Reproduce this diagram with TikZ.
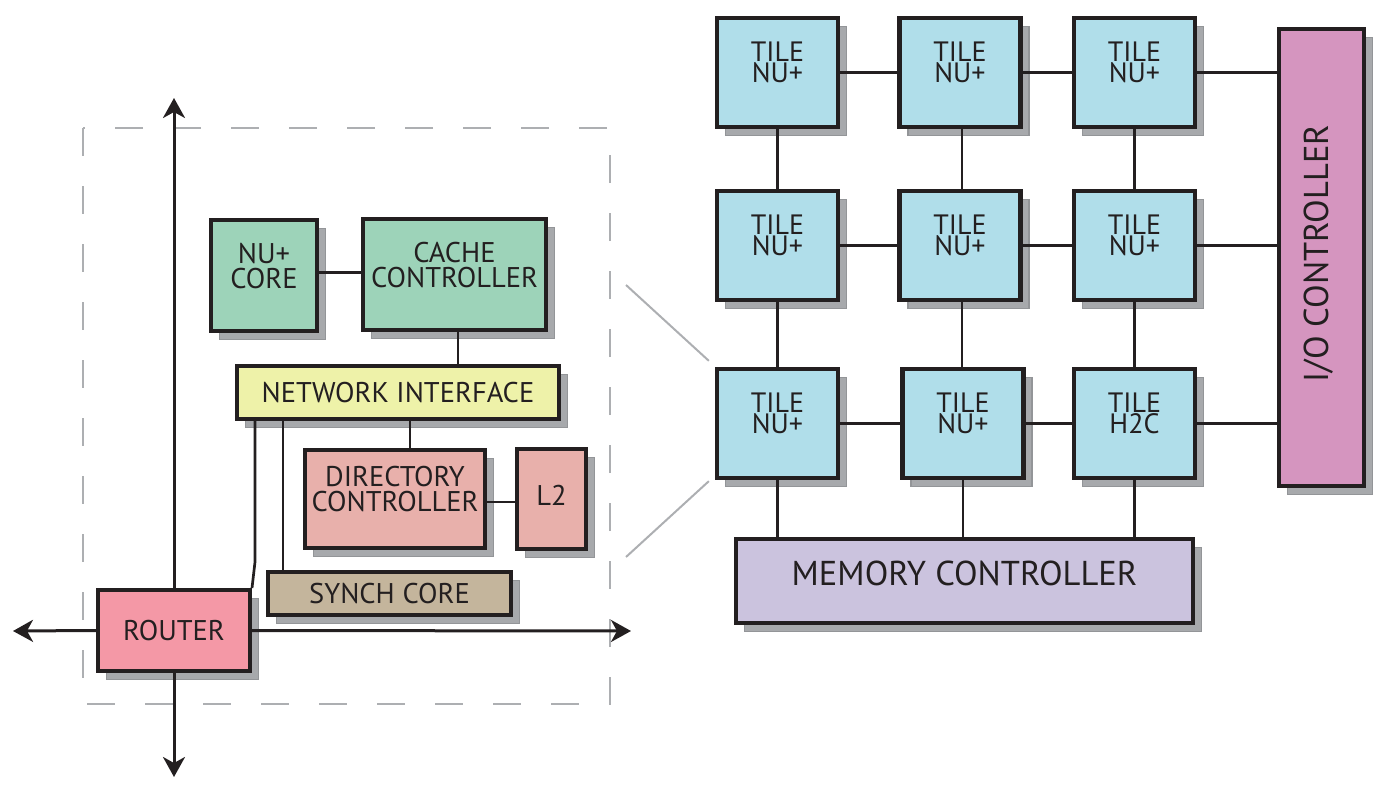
\documentclass[tikz,border=0pt]{standalone}
\usepackage{fontspec}
\setmainfont{PT Sans}
\usetikzlibrary{shadows,calc,arrows.meta}
\definecolor{ink}{HTML}{231F20}
\definecolor{tilec}{HTML}{B0DEEA}
\definecolor{greenc}{HTML}{9DD3B9}
\definecolor{nic}{HTML}{EEF2A9}
\definecolor{dirc}{HTML}{E8B0AB}
\definecolor{routerc}{HTML}{F498A6}
\definecolor{synchc}{HTML}{C4B59C}
\definecolor{memc}{HTML}{CBC3DE}
\definecolor{ioc}{HTML}{D595BF}
\definecolor{shadowc}{HTML}{A7A9AC}
\definecolor{shadowd}{HTML}{939598}
\definecolor{dashc}{HTML}{ADAFB2}
\tikzset{
  blk/.style={draw=ink, line width=4.3pt, inner sep=0pt, rectangle,
    drop shadow={shadow xshift=8.5pt, shadow yshift=-8.5pt, opacity=1,
      fill=shadowc, draw=shadowd, line width=1.2pt}},
  tile/.style={blk, fill=tilec, minimum width=121pt, minimum height=109pt},
  txt/.style={text=ink, align=center, inner sep=0pt, font=\fontsize{28.5}{25}\selectfont},
  tiletxt/.style={txt, font=\fontsize{28}{20.5}\selectfont},
  bigtxt/.style={txt, font=\fontsize{34.5}{34}\selectfont},
  conn/.style={draw=ink, line width=2.7pt},
  axis/.style={draw=ink, line width=3pt, -{Stealth[length=20pt,width=22pt,inset=6pt]}},
  zoomline/.style={draw=dashc, line width=2pt},
}
\begin{document}
\begin{tikzpicture}[x=1pt,y=-1pt]
\useasboundingbox (0,0) rectangle (1389,787);
% dashed enclosure
\draw[dashc, line width=2pt, dash pattern=on 28pt off 30pt] (83,128) rectangle (610,704);

% ---- right: tile grid ----
\node[tile] (t11) at (777.5,72.5) {};
\node[tile] (t12) at (960,72.5) {};
\node[tile] (t13) at (1134.5,72.5) {};
\node[tile] (t21) at (777.5,245.5) {};
\node[tile] (t22) at (960,245.5) {};
\node[tile] (t23) at (1134.5,245.5) {};
\node[tile] (t31) at (777.5,423.5) {};
\node[tile] (t32) at (963,423.5) {};
\node[tile] (t33) at (1134.5,423.5) {};
\foreach \t in {t11,t12,t13,t21,t22,t23,t31,t32}{
  \node[tiletxt] (\t l) at ([yshift=10pt]\t.center) {TILE\\NU+};
}
\node[tiletxt] (t33l) at ([yshift=10pt]t33.center) {TILE\\H2C};

\node[blk, fill=ioc, minimum width=84.7pt, minimum height=456.7pt] (io) at (1321.5,257.5) {};
\node[bigtxt, rotate=90] (iol) at ([xshift=-3pt,yshift=4pt]io.center) {I/O CONTROLLER};
\node[blk, fill=memc, minimum width=456.7pt, minimum height=83.7pt] (mem) at (964.5,581) {};
\node[bigtxt] (meml) at ([yshift=8pt]mem.center) {MEMORY CONTROLLER};

% grid connectors
\foreach \a/\b in {t11/t12,t12/t13,t21/t22,t22/t23,t31/t32,t32/t33}{
  \draw[conn] (\a.east) -- (\a.east -| \b.west);
}
\foreach \a/\b in {t11/t21,t21/t31,t13/t23,t23/t33}{
  \draw[conn] (\a.south) -- (\a.south |- \b.north);
}
\draw[conn] ([xshift=-1pt]t32.north |- t22.south) -- ([xshift=-1pt]t32.north);
\draw[conn] ([xshift=-1pt]t12.south -| t32.north) -- ([xshift=-1pt]t22.north -| t32.north);
\foreach \a in {t13,t23,t33}{
  \draw[conn] (\a.east) -- (\a.east -| io.west);
}
\foreach \a in {t31,t32,t33}{
  \draw[conn] (\a.south) -- (\a.south |- mem.north);
}

% ---- left: tile detail ----
\node[blk, fill=greenc, minimum width=105.7pt, minimum height=110.7pt] (core) at (264,275.5) {};
\node[txt] (corel) at ([yshift=9pt]core.center) {NU+\\CORE};
\node[blk, fill=greenc, minimum width=182.7pt, minimum height=110.7pt] (cache) at (454.5,274.5) {};
\node[txt] (cachel) at ([yshift=9pt]cache.center) {CACHE\\CONTROLLER};
\node[blk, fill=nic, minimum width=321.7pt, minimum height=52.7pt] (ni) at (398,392.5) {};
\node[txt] (nil) at (ni.center) {NETWORK INTERFACE};
\node[blk, fill=dirc, minimum width=179.7pt, minimum height=97.7pt] (dir) at (395,499) {};
\node[txt] (dirl) at ([yshift=10pt]dir.center) {DIRECTORY\\CONTROLLER};
\node[blk, fill=dirc, minimum width=68.7pt, minimum height=99.7pt] (l2) at (551.5,499) {};
\node[txt] (l2l) at ([yshift=4pt]l2.center) {L2};
\node[blk, fill=synchc, minimum width=242.7pt, minimum height=42.7pt] (synch) at (389.5,593.5) {};
\node[txt] (synchl) at (synch.center) {SYNCH CORE};
\node[blk, fill=routerc, minimum width=151.7pt, minimum height=80.7pt] (router) at (174,630.5) {};
\node[txt] (routerl) at (router.center) {ROUTER};

% left connectors
\draw[conn] ([yshift=3pt]core.east) -- ([yshift=3pt]core.east -| cache.west);
\draw[conn] ([xshift=3.5pt]cache.south) -- ([xshift=3.5pt]cache.south |- ni.north);
\draw[conn] ([xshift=15pt]dir.north) -- ([xshift=15pt]dir.north |- ni.south);
\draw[conn] ([yshift=-3pt]dir.east) -- ([yshift=-3pt]dir.east -| l2.west);
\coordinate (bend) at ($(ni.south west)+(20,141)$);
\draw[conn] ($(ni.south west)+(20,0)$) -- (bend) -- (router.north east);
\coordinate (s1) at ($(ni.south west)+(48,0)$);
\draw[conn] (s1) -- (s1 |- synch.north);

% router axes
\coordinate (up) at (174,98);
\coordinate (down) at (174,777);
\coordinate (left) at (13,631);
\coordinate (right) at (631,631);
\draw[axis] (router.north) -- (up);
\draw[axis] (router.south) -- (down);
\draw[axis] (router.west) -- (left);
\draw[axis] (router.east) -- (right);

% zoom lines
\coordinate (zu) at (626,285);
\coordinate (zl) at (626,557);
\draw[zoomline] (zu) -- ($(t31.north west)+(-6,-6)$);
\draw[zoomline] (zl) -- ($(t31.south west)+(-6,1)$);
\end{tikzpicture}
\end{document}
